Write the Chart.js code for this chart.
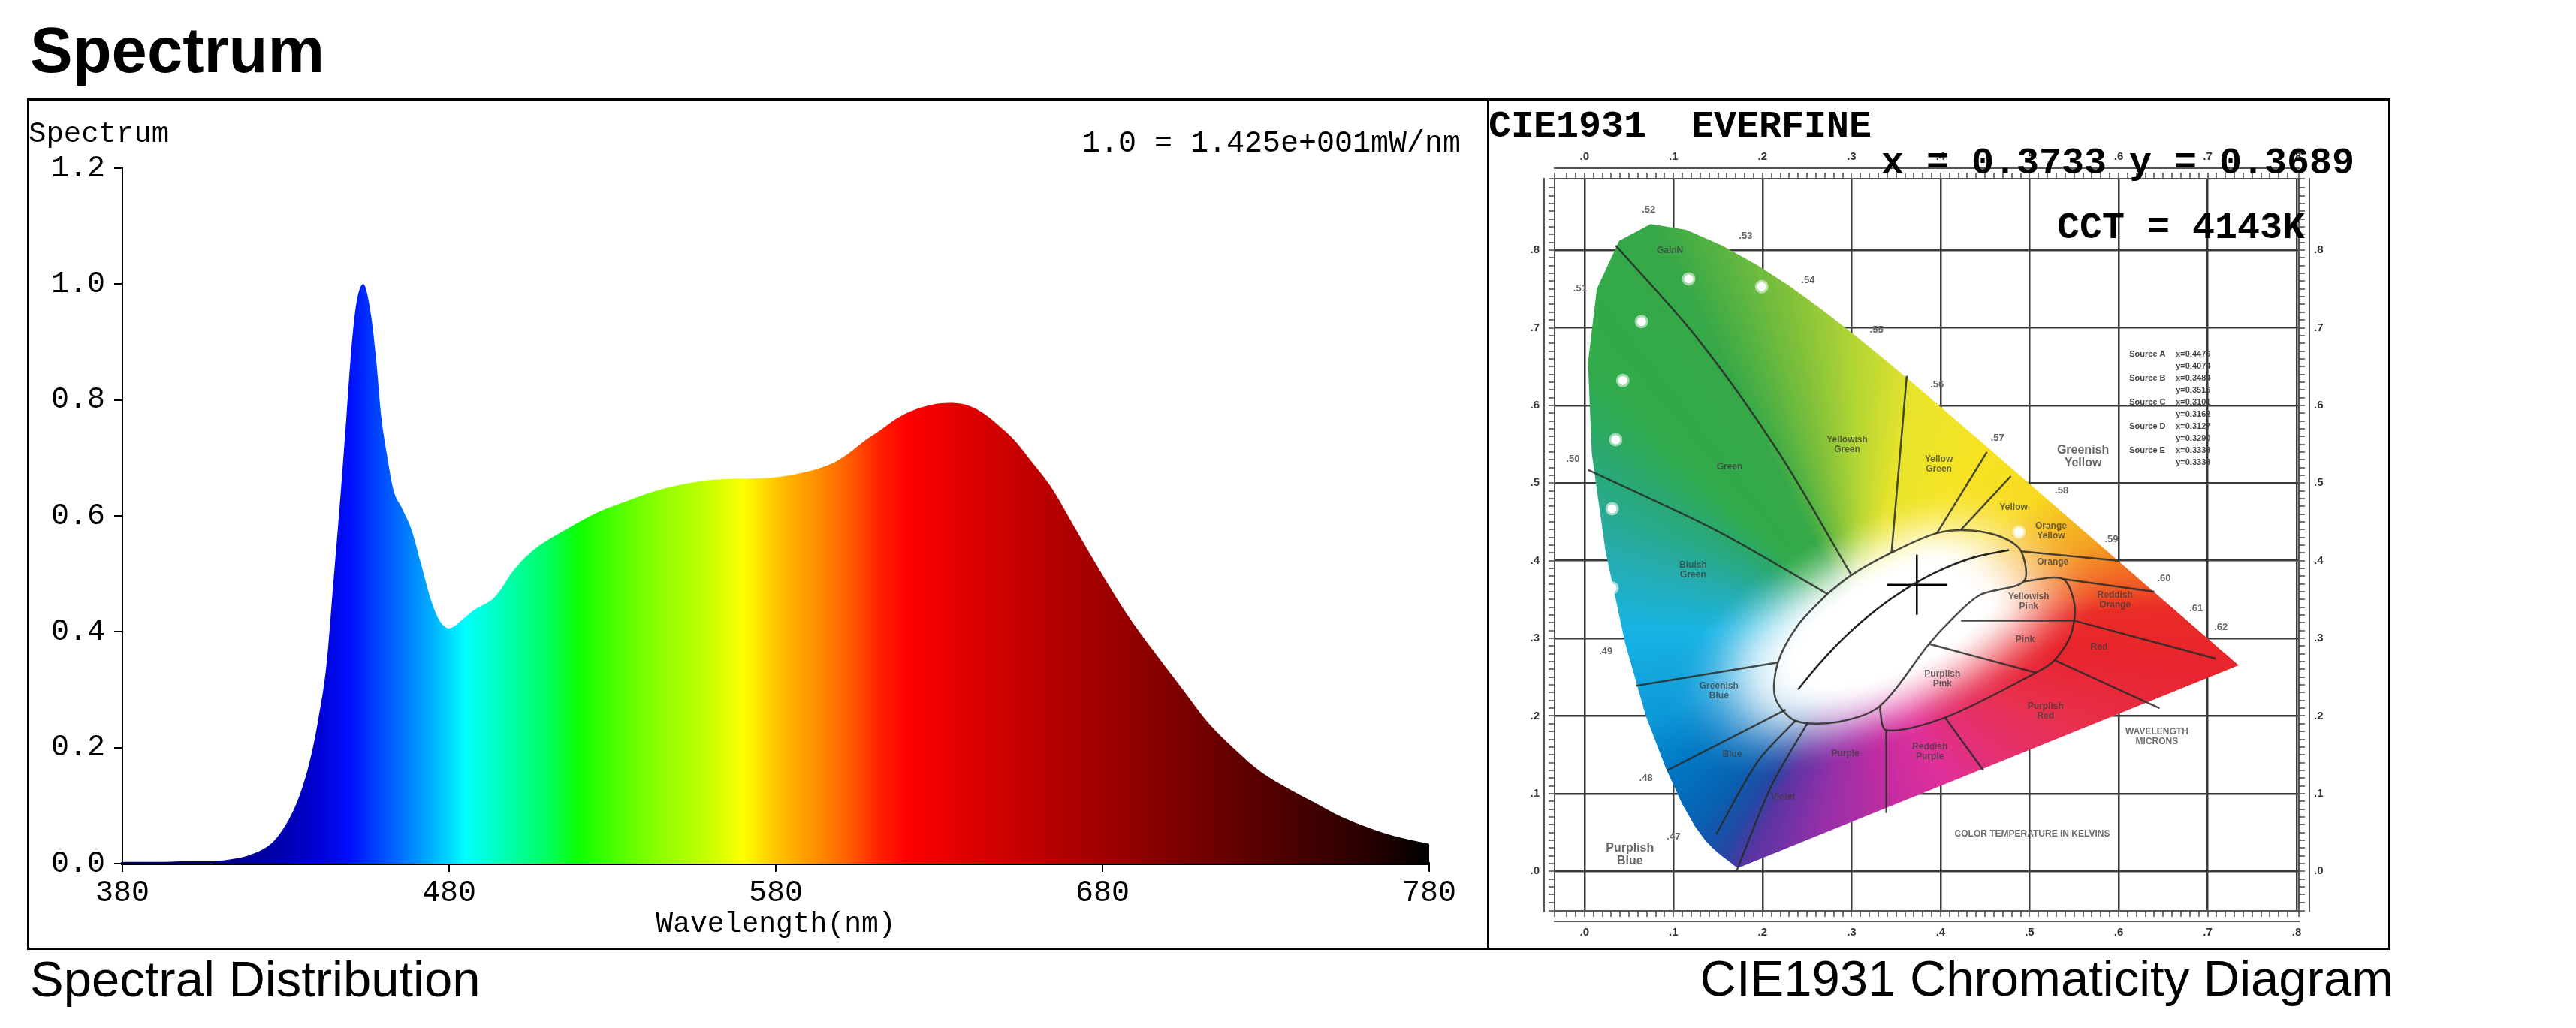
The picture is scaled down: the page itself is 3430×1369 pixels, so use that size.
<!DOCTYPE html>
<html lang="en">
<head>
<meta charset="UTF-8">
<title>Spectrum</title>
<script src="https://cdn.jsdelivr.net/npm/chart.js"></script>
<style>
  html, body { margin: 0; padding: 0; background: #fff; }
  body { width: 3430px; height: 1369px; position: relative; overflow: hidden; }
  .abs { position: absolute; white-space: pre; line-height: 1; color: #000; }
  .sans { font-family: "Liberation Sans", Arial, sans-serif; }
  .mono { font-family: "Liberation Mono", "Courier New", monospace; }
  .box { position: absolute; box-sizing: border-box; border: 3px solid #000; }
  canvas { position: absolute; }
</style>
</head>
<body>
<div class="abs sans" style="left:40px;top:24px;font-size:85px;font-weight:bold">Spectrum</div>

<div class="box" style="left:36px;top:131px;width:1947px;height:1134px"></div>
<div class="box" style="left:1980px;top:131px;width:1203px;height:1134px"></div>

<canvas id="spd" width="1940" height="1124" style="left:40px;top:136px"></canvas>
<canvas id="cie" width="1197" height="1128" style="left:1983px;top:134px"></canvas>

<div class="abs mono" style="left:38px;top:160px;font-size:39px">Spectrum</div>
<div class="abs mono" style="left:1441px;top:172px;font-size:40px">1.0 = 1.425e+001mW/nm</div>
<div class="abs mono" style="left:1982px;top:144px;font-size:50px;font-weight:bold">CIE1931  EVERFINE</div>
<div class="abs mono" style="left:2505px;top:193px;font-size:50px;font-weight:bold">x = 0.3733 y = 0.3689</div>
<div class="abs mono" style="left:2739px;top:279px;font-size:50px;font-weight:bold">CCT = 4143K</div>

<div class="abs sans" style="left:40px;top:1270px;font-size:67px">Spectral Distribution</div>
<div class="abs sans" style="right:243px;top:1269px;font-size:67px">CIE1931 Chromaticity Diagram</div>

<script>
// ---- spectral distribution ----
const SPD_NM = [380, 390, 400, 405, 410, 415, 419, 425, 429, 434, 437.5, 440, 442.5, 444.5, 446.5,
  448.5, 450, 451.5, 453.7, 456, 457.7, 459.2, 461, 463, 465.5, 468.5, 471.5, 474.5, 477, 480,
  484.5, 487.5, 494, 500, 506, 514, 520, 525, 535, 545, 556, 566, 576, 586, 597, 602, 607, 612,
  617, 622, 628, 633, 638, 643, 648, 653, 658, 664, 672, 680, 688, 696, 704.5, 712.5, 720.5,
  728.5, 737, 745, 753, 761, 769, 780];
const SPD_VAL = [0.003, 0.003, 0.004, 0.004, 0.005, 0.009, 0.015, 0.032, 0.058, 0.114, 0.18, 0.25,
  0.345, 0.48, 0.617, 0.766, 0.882, 0.963, 1.0, 0.95, 0.868, 0.773, 0.705, 0.644, 0.614, 0.576,
  0.515, 0.454, 0.42, 0.406, 0.423, 0.437, 0.46, 0.508, 0.542, 0.571, 0.59, 0.605, 0.627, 0.646,
  0.659, 0.664, 0.665, 0.672, 0.69, 0.707, 0.729, 0.748, 0.768, 0.782, 0.792, 0.795, 0.792, 0.779,
  0.757, 0.731, 0.696, 0.652, 0.575, 0.498, 0.426, 0.364, 0.301, 0.242, 0.197, 0.158, 0.129,
  0.105, 0.081, 0.063, 0.048, 0.034];
const X_TICKS = [380, 480, 580, 680, 780];
const Y_TICKS = [0, 0.2, 0.4, 0.6, 0.8, 1.0, 1.2];

// colour ramp under the curve
const RAMP_NM = [380, 415, 430, 440, 450, 460, 470, 478, 485, 500, 510, 520, 535, 545, 558,
  570, 581, 592, 602, 612, 620, 638, 658, 680, 696, 712, 728, 745, 761, 780];
const RAMP_COL = ['#000050', '#00008c', '#0000b4', '#0000d4', '#0010ff', '#0050ff', '#0090ff',
  '#00c8ff', '#00ffff', '#00ffa0', '#00ff60', '#10ff00', '#60ff00', '#90ff00', '#c0ff00',
  '#ffff00', '#ffc000', '#ff9000', '#ff6000', '#ff2000', '#ff0000', '#e00000', '#c00000',
  '#a00000', '#880000', '#700000', '#580000', '#400000', '#280000', '#000000'];

// ---- CIE 1931 diagram ----
// spectral locus 380..650 nm every 5 nm, then 660, 680, 700
const LOCUS_X = [0.1741, 0.1740, 0.1738, 0.1736, 0.1733, 0.1730, 0.1726, 0.1721, 0.1714, 0.1703,
  0.1689, 0.1669, 0.1644, 0.1611, 0.1566, 0.1510, 0.1440, 0.1355, 0.1241, 0.1096, 0.0913, 0.0687,
  0.0454, 0.0235, 0.0082, 0.0039, 0.0139, 0.0389, 0.0743, 0.1142, 0.1547, 0.1929, 0.2296, 0.2658,
  0.3016, 0.3373, 0.3731, 0.4087, 0.4441, 0.4788, 0.5125, 0.5448, 0.5752, 0.6029, 0.6270, 0.6482,
  0.6658, 0.6801, 0.6915, 0.7006, 0.7079, 0.7140, 0.7190, 0.7230, 0.7260, 0.7300, 0.7334, 0.7347];
const LOCUS_Y = [0.0050, 0.0050, 0.0049, 0.0049, 0.0048, 0.0048, 0.0048, 0.0048, 0.0051, 0.0058,
  0.0069, 0.0086, 0.0109, 0.0138, 0.0177, 0.0227, 0.0297, 0.0399, 0.0578, 0.0868, 0.1327, 0.2007,
  0.2950, 0.4127, 0.5384, 0.6548, 0.7502, 0.8120, 0.8338, 0.8262, 0.8059, 0.7816, 0.7543, 0.7243,
  0.6923, 0.6589, 0.6245, 0.5896, 0.5547, 0.5202, 0.4866, 0.4544, 0.4242, 0.3965, 0.3725, 0.3514,
  0.3340, 0.3197, 0.3083, 0.2993, 0.2920, 0.2859, 0.2809, 0.2770, 0.2740, 0.2700, 0.2666, 0.2653];
// blackbody curve, infinite T down to 2500 K
const PLANCK_X = [0.2399, 0.2530, 0.2637, 0.2807, 0.2952, 0.3135, 0.3451, 0.3805, 0.4053, 0.4369, 0.4770];
const PLANCK_Y = [0.2342, 0.2527, 0.2671, 0.2883, 0.3048, 0.3236, 0.3516, 0.3768, 0.3907, 0.4041, 0.4137];
// colour-name boundaries printed on the diagram, [x, y] pairs
const REGION_LINES = [
  [[0.035, 0.806], [0.125, 0.689], [0.218, 0.540], [0.2998, 0.3815]],
  [[0.004, 0.517], [0.148, 0.439], [0.2728, 0.3573]],
  [[0.362, 0.638], [0.3449, 0.4104]],
  [[0.452, 0.540], [0.3960, 0.4356]],
  [[0.479, 0.509], [0.423, 0.440]],
  [[0.058, 0.239], [0.2172, 0.2688]],
  [[0.093, 0.130], [0.226, 0.208]],
  [[0.148, 0.048], [0.195, 0.142], [0.2368, 0.1939]],
  [[0.171, 0.001], [0.210, 0.110], [0.250, 0.190]],
  [[0.339, 0.075], [0.3389, 0.1818]],
  [[0.448, 0.130], [0.405, 0.198]],
  [[0.646, 0.210], [0.5281, 0.272]],
  [[0.709, 0.274], [0.5506, 0.3227]],
  [[0.640, 0.360], [0.5371, 0.3766]],
  [[0.600, 0.400], [0.4906, 0.412]],
  [[0.4230, 0.3227], [0.5506, 0.3227]],
  [[0.3870, 0.2929], [0.5071, 0.2558]],
  [[0.2728, 0.3573], [0.2998, 0.3815], [0.3449, 0.4104], [0.3960, 0.4356], [0.4350, 0.4388],
   [0.4711, 0.4292], [0.4906, 0.4120], [0.4936, 0.3734], [0.4440, 0.3557], [0.4110, 0.3227],
   [0.3870, 0.2929], [0.3314, 0.2124], [0.2848, 0.1923], [0.2368, 0.1939], [0.2142, 0.2237],
   [0.2172, 0.2688], [0.2398, 0.3171], [0.2728, 0.3573]],
  [[0.4936, 0.3734], [0.5371, 0.3766], [0.5506, 0.3428], [0.5462, 0.3042], [0.5281, 0.2720],
   [0.5071, 0.2558], [0.4050, 0.1979], [0.3389, 0.1818], [0.3314, 0.2124]]
];
// colour names printed inside the diagram
const NAME_TEXT = ['GaInN', 'Green', 'Yellowish\nGreen', 'Yellow\nGreen', 'Yellow', 'Orange\nYellow',
  'Orange', 'Reddish\nOrange', 'Red', 'Yellowish\nPink', 'Pink', 'Purplish\nPink', 'Purplish\nRed',
  'Reddish\nPurple', 'Purple', 'Violet', 'Blue', 'Greenish\nBlue', 'Bluish\nGreen',
  'COLOR TEMPERATURE IN KELVINS', 'WAVELENGTH\nMICRONS'];
const NAME_X = [0.096, 0.163, 0.295, 0.398, 0.482, 0.524, 0.526, 0.596, 0.578, 0.499, 0.495, 0.402,
  0.518, 0.388, 0.293, 0.223, 0.166, 0.151, 0.122, 0.503, 0.643];
const NAME_Y = [0.799, 0.521, 0.549, 0.524, 0.469, 0.438, 0.398, 0.349, 0.289, 0.347, 0.298, 0.248,
  0.206, 0.154, 0.151, 0.095, 0.150, 0.232, 0.388, 0.048, 0.173];
// labels outside the locus
const OUT_TEXT = ['Purplish\nBlue', 'Greenish\nYellow'];
const OUT_X = [0.051, 0.560];
const OUT_Y = [0.021, 0.534];
// wavelength marks along the locus (microns)
const WL_TEXT = ['.47', '.48', '.49', '.50', '.51', '.52', '.53', '.54', '.55', '.56', '.57', '.58',
  '.59', '.60', '.61', '.62'];
const WL_X = [0.100, 0.069, 0.024, -0.013, -0.005, 0.072, 0.181, 0.251, 0.328, 0.396, 0.464, 0.536,
  0.592, 0.651, 0.687, 0.715];
const WL_Y = [0.044, 0.120, 0.283, 0.531, 0.750, 0.852, 0.818, 0.761, 0.697, 0.627, 0.558, 0.490,
  0.427, 0.377, 0.338, 0.314];
// standard illuminants table
const SOURCE_NAME = ['A', 'B', 'C', 'D', 'E'];
const SOURCE_X = ['0.4476', '0.3484', '0.3101', '0.3127', '0.3333'];
const SOURCE_Y = ['0.4074', '0.3516', '0.3162', '0.3290', '0.3333'];
// bright spots printed on the diagram
const LED_X = [0.117, 0.199, 0.064, 0.043, 0.035, 0.031, 0.031, 0.488];
const LED_Y = [0.763, 0.753, 0.708, 0.632, 0.556, 0.467, 0.365, 0.437];
// measured point
const POINT_X = [0.3733];
const POINT_Y = [0.3689];
const CIE_X_TICKS = [0, 0.1, 0.2, 0.3, 0.4, 0.5, 0.6, 0.7, 0.8];
const CIE_Y_TICKS = [0, 0.1, 0.2, 0.3, 0.4, 0.5, 0.6, 0.7, 0.8];

// fill styling: hue around a white point, pale oval in the middle
const WHITE = [0.31, 0.31];
const OVAL = { cx: 0.35, cy: 0.32, ang: 31, a: 0.17, b: 0.075 };
const HUE_DEG = [-180, -154, -140, -126, -118, -113, -100, -80, -64, -45, -27, -6, 5, 11, 23,
  41, 61, 79, 91, 100, 114, 132, 143, 160, 180];
const HUE_COL = ['#18b4e4', '#0c98d8', '#0078c4', '#0860b0', '#2448a4', '#5a34a2', '#9430a8',
  '#c82ca0', '#e0309a', '#e4306e', '#e8304e', '#e8242c', '#ea2c26', '#f05a24', '#f4a022',
  '#f8da20', '#f6e424', '#e8e42c', '#b4d634', '#84c23a', '#36a848', '#30aa4a', '#2aa872',
  '#26acac', '#18b4e4'];

const MONO = '"Liberation Mono", "Courier New", monospace';
const SANS = '"Liberation Sans", Arial, sans-serif';

function ramp(chart) {
  const xs = chart.scales.x;
  if (!chart.chartArea || !xs) return RAMP_COL[4];
  const x0 = xs.getPixelForValue(RAMP_NM[0]);
  const x1 = xs.getPixelForValue(RAMP_NM[RAMP_NM.length - 1]);
  const g = chart.ctx.createLinearGradient(x0, 0, x1, 0);
  RAMP_NM.forEach((nm, i) => g.addColorStop((xs.getPixelForValue(nm) - x0) / (x1 - x0), RAMP_COL[i]));
  return g;
}

const spd = new Chart(document.getElementById('spd'), {
  type: 'line',
  data: {
    datasets: [{
      data: SPD_NM.map((nm, i) => ({ x: nm, y: SPD_VAL[i] })),
      fill: 'origin',
      borderWidth: 0,
      borderColor: 'rgba(0,0,0,0)',
      pointRadius: 0,
      cubicInterpolationMode: 'monotone',
      backgroundColor: c => ramp(c.chart)
    }]
  },
  options: {
    responsive: false,
    animation: false,
    layout: { padding: { top: 88, right: 77, left: 0, bottom: 0 } },
    plugins: { legend: { display: false }, tooltip: { enabled: false } },
    scales: {
      x: {
        type: 'linear', min: 380, max: 780,
        afterBuildTicks: s => { s.ticks = X_TICKS.map(v => ({ value: v })); },
        afterFit: s => { s.height = 110; },
        border: { color: '#000', width: 4 },
        grid: { drawOnChartArea: false, tickLength: 11, color: '#000', lineWidth: 2 },
        ticks: { font: { family: MONO, size: 40 }, color: '#000', padding: 4, maxRotation: 0 },
        title: {
          display: true, text: 'Wavelength(nm)', color: '#000',
          font: { family: MONO, size: 38, lineHeight: 1 }, padding: { top: 0, bottom: 10 }
        }
      },
      y: {
        type: 'linear', min: 0, max: 1.2,
        afterBuildTicks: s => { s.ticks = Y_TICKS.map(v => ({ value: v })); },
        afterFit: s => { s.width = 123; },
        border: { color: '#000', width: 2 },
        grid: { drawOnChartArea: false, tickLength: 11, color: '#000', lineWidth: 2 },
        ticks: { font: { family: MONO, size: 40 }, color: '#000', padding: 12, callback: v => v.toFixed(1) }
      }
    }
  }
});
spd.update('none');

// ---- chromaticity fill ----
function hex(c) { return [1, 3, 5].map(i => parseInt(c.substr(i, 2), 16)); }

function hueAt(deg) {
  let i = 0;
  while (i < HUE_DEG.length - 2 && deg > HUE_DEG[i + 1]) i++;
  const t = (deg - HUE_DEG[i]) / (HUE_DEG[i + 1] - HUE_DEG[i]);
  const a = hex(HUE_COL[i]), b = hex(HUE_COL[i + 1]);
  return a.map((v, k) => v + (b[k] - v) * t);
}

function smooth(t) { t = Math.min(1, Math.max(0, t)); return t * t * (3 - 2 * t); }

function paintChromaticity(chart) {
  const { left, top, width, height } = chart.chartArea;
  const w = Math.ceil(width), h = Math.ceil(height);
  const xs = chart.scales.x, ys = chart.scales.y;
  const n = LOCUS_X.length;
  // distance white point -> locus edge, every half degree
  const edge = new Float32Array(720), hue = [];
  for (let k = 0; k < 720; k++) {
    const a = (k / 2 - 180) * Math.PI / 180;
    const dx = Math.cos(a), dy = Math.sin(a);
    let best = 1;
    for (let i = 0; i < n; i++) {
      const ax = LOCUS_X[i], ay = LOCUS_Y[i];
      const ex = LOCUS_X[(i + 1) % n] - ax, ey = LOCUS_Y[(i + 1) % n] - ay;
      const den = dx * ey - dy * ex;
      if (Math.abs(den) < 1e-12) continue;
      const qx = ax - WHITE[0], qy = ay - WHITE[1];
      const t = (qx * ey - qy * ex) / den;
      const u = (qx * dy - qy * dx) / den;
      if (t > 0 && u >= 0 && u <= 1 && t < best) best = t;
    }
    edge[k] = best;
    hue.push(hueAt(k / 2 - 180));
  }
  const ca = Math.cos(OVAL.ang * Math.PI / 180), sa = Math.sin(OVAL.ang * Math.PI / 180);
  const img = document.createElement('canvas');
  img.width = w; img.height = h;
  const ictx = img.getContext('2d');
  const data = ictx.createImageData(w, h);
  const col = new Float32Array(w);
  for (let px = 0; px < w; px++) col[px] = xs.getValueForPixel(left + px + 0.5);
  for (let py = 0; py < h; py++) {
    const yv = ys.getValueForPixel(top + py + 0.5);
    for (let px = 0; px < w; px++) {
      const xv = col[px];
      const wx = xv - WHITE[0], wy = yv - WHITE[1];
      let k = Math.round((Math.atan2(wy, wx) * 180 / Math.PI + 180) * 2);
      if (k >= 720) k = 0;
      const dx = xv - OVAL.cx, dy = yv - OVAL.cy;
      const u = (dx * ca + dy * sa) / OVAL.a, v = (-dx * sa + dy * ca) / OVAL.b;
      const s1 = smooth((Math.hypot(u, v) - 0.7) / 1.2);
      const s2 = smooth((Math.hypot(wx, wy) / edge[k] - 0.45) / 0.55);
      const s = 1 - (1 - s1) * (1 - s2);
      const c = hue[k];
      const o = (py * w + px) * 4;
      data.data[o] = 255 + (c[0] - 255) * s;
      data.data[o + 1] = 255 + (c[1] - 255) * s;
      data.data[o + 2] = 255 + (c[2] - 255) * s;
      data.data[o + 3] = 255;
    }
  }
  ictx.putImageData(data, 0, 0);
  return img;
}

const locusFill = {
  id: 'locusFill',
  beforeDatasetsDraw(chart) {
    const pts = chart.getDatasetMeta(0).data;
    const { left, top, width, height } = chart.chartArea;
    if (!chart.$cie) chart.$cie = paintChromaticity(chart);
    const ctx = chart.ctx;
    ctx.save();
    ctx.beginPath();
    pts.forEach((p, i) => (i ? ctx.lineTo(p.x, p.y) : ctx.moveTo(p.x, p.y)));
    ctx.closePath();
    ctx.clip();
    ctx.drawImage(chart.$cie, left, top, width, height);
    ctx.restore();
  }
};

// small printed texts of the diagram
function drawLabels(ctx, xs, ys, texts, xv, yv, size, color) {
  ctx.font = 'bold ' + size + 'px ' + SANS;
  ctx.fillStyle = color;
  texts.forEach((t, i) => {
    const lines = t.split('\n');
    lines.forEach((line, j) => ctx.fillText(line, xs.getPixelForValue(xv[i]),
      ys.getPixelForValue(yv[i]) + (j - (lines.length - 1) / 2) * (size + 1)));
  });
}

const cieText = {
  id: 'cieText',
  afterDatasetsDraw(chart) {
    const { ctx } = chart;
    const xs = chart.scales.x, ys = chart.scales.y;
    ctx.save();
    ctx.textAlign = 'center';
    ctx.textBaseline = 'middle';
    drawLabels(ctx, xs, ys, NAME_TEXT, NAME_X, NAME_Y, 12, 'rgba(60,60,60,0.75)');
    drawLabels(ctx, xs, ys, OUT_TEXT, OUT_X, OUT_Y, 16, '#666');
    drawLabels(ctx, xs, ys, WL_TEXT, WL_X, WL_Y, 13, '#666');
    ctx.textAlign = 'left';
    ctx.font = 'bold 11px ' + SANS;
    ctx.fillStyle = '#444';
    const x0 = xs.getPixelForValue(0.612), y0 = ys.getPixelForValue(0.666);
    SOURCE_NAME.forEach((n, i) => {
      ctx.fillText('Source ' + n, x0, y0 + i * 32);
      ctx.fillText('x=' + SOURCE_X[i], x0 + 62, y0 + i * 32);
      ctx.fillText('y=' + SOURCE_Y[i], x0 + 62, y0 + i * 32 + 16);
    });
    ctx.restore();
  }
};

const CIE_MIN_X = -0.0336, CIE_MAX_X = 0.8025, CIE_MIN_Y = -0.051, CIE_MAX_Y = 0.892;

function labelAxis(position, ticks, size) {
  const horiz = position === 'top' || position === 'bottom';
  return {
    type: 'linear', position, weight: 1,
    min: horiz ? CIE_MIN_X : CIE_MIN_Y, max: horiz ? CIE_MAX_X : CIE_MAX_Y,
    afterBuildTicks: s => { s.ticks = ticks.map(v => ({ value: v })); },
    afterFit: s => { if (horiz) s.height = size; else s.width = size; },
    border: { display: true, color: '#555', width: 2 },
    grid: {
      drawOnChartArea: position === 'bottom' || position === 'left',
      drawTicks: false, color: '#3a3a3a', lineWidth: 2.5
    },
    ticks: {
      font: { family: SANS, size: 15, weight: 'bold' }, color: '#333', padding: 6,
      maxRotation: 0, autoSkip: false, callback: v => '.' + Math.round(v * 10)
    }
  };
}

function rulerAxis(position) {
  const horiz = position === 'top' || position === 'bottom';
  return {
    type: 'linear', position, weight: 0,
    min: horiz ? CIE_MIN_X : CIE_MIN_Y, max: horiz ? CIE_MAX_X : CIE_MAX_Y,
    afterFit: s => { if (horiz) s.height = 14; else s.width = 14; },
    border: { display: true, color: '#555', width: 2 },
    grid: { drawOnChartArea: false, drawTicks: true, tickLength: 8, color: '#777', lineWidth: 2 },
    ticks: { display: false, stepSize: 0.01, autoSkip: false }
  };
}

const lineSets = REGION_LINES.map(pts => ({
  data: pts.map(p => ({ x: p[0], y: p[1] })),
  showLine: true, borderWidth: 2.5, borderColor: 'rgba(40,44,40,0.85)', pointRadius: 0, tension: 0.3
}));

new Chart(document.getElementById('cie'), {
  type: 'scatter',
  data: {
    datasets: [
      {
        data: LOCUS_X.map((x, i) => ({ x, y: LOCUS_Y[i] })),
        showLine: true, borderWidth: 0, borderColor: 'rgba(0,0,0,0)', pointRadius: 0, fill: false
      },
      ...lineSets,
      {
        data: PLANCK_X.map((x, i) => ({ x, y: PLANCK_Y[i] })),
        showLine: true, borderWidth: 2.5, borderColor: '#222', pointRadius: 0,
        cubicInterpolationMode: 'monotone'
      },
      {
        data: LED_X.map((x, i) => ({ x, y: LED_Y[i] })),
        pointRadius: 6, pointBackgroundColor: '#fff',
        pointBorderColor: 'rgba(255,255,255,0.55)', pointBorderWidth: 6
      },
      {
        data: POINT_X.map((x, i) => ({ x, y: POINT_Y[i] })),
        pointStyle: 'cross', pointRadius: 40, pointBorderColor: '#000', pointBorderWidth: 2.5
      }
    ]
  },
  options: {
    responsive: false,
    animation: false,
    layout: { padding: 0 },
    plugins: { legend: { display: false }, tooltip: { enabled: false } },
    scales: {
      x: labelAxis('bottom', CIE_X_TICKS, 35),
      xr: rulerAxis('bottom'),
      x2: labelAxis('top', CIE_X_TICKS, 90),
      x2r: rulerAxis('top'),
      y: labelAxis('left', CIE_Y_TICKS, 73),
      yr: rulerAxis('left'),
      y2: labelAxis('right', CIE_Y_TICKS, 105),
      y2r: rulerAxis('right')
    }
  },
  plugins: [locusFill, cieText]
});
</script>
</body>
</html>
